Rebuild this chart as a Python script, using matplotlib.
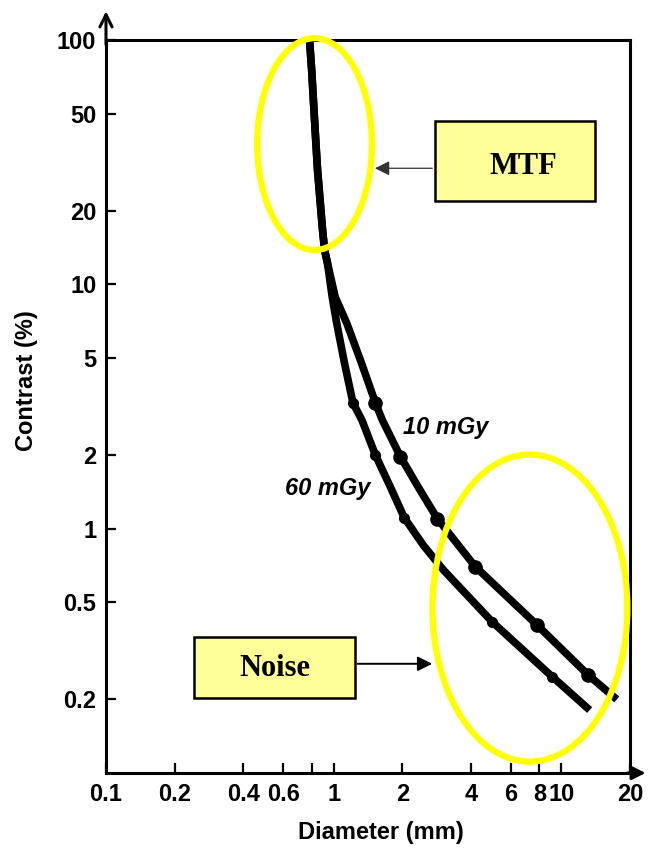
import matplotlib
matplotlib.use("Agg")
import matplotlib.pyplot as plt
from matplotlib.patches import Ellipse, Rectangle

# diameter (mm) vs contrast (%)
d_10 = [0.783, 0.800, 0.832, 0.849, 0.893, 0.912, 0.939, 1.015, 1.14, 1.324, 1.525, 1.636,
        1.963, 2.35, 2.85, 4.18, 7.82, 13.1, 17.5]
c_10 = [100, 75.4, 40.1, 29.4, 16.7, 13.8, 12.2, 8.87, 6.95, 4.76, 3.27, 2.78,
        1.97, 1.48, 1.10, 0.70, 0.403, 0.252, 0.20]
dots_10 = [10, 12, 14, 15, 16, 17]

d_60 = [0.783, 0.800, 0.832, 0.849, 0.893, 0.912, 0.939, 0.985, 1.03, 1.115, 1.215, 1.33,
        1.525, 1.774, 2.04, 2.47, 3.03, 4.96, 9.1, 13.3]
c_60 = [100, 75.4, 40.1, 29.4, 16.7, 13.8, 12.2, 8.87, 6.95, 4.76, 3.27, 2.78,
        2.0, 1.48, 1.11, 0.857, 0.678, 0.416, 0.248, 0.181]
dots_60 = [10, 12, 14, 17, 18]

x_ticks = [0.1, 0.2, 0.4, 0.6, 0.8, 1, 2, 4, 6, 8, 10, 20]
x_labels = ['0.1', '0.2', '0.4', '0.6', '', '1', '2', '4', '6', '8', '10', '20']
y_ticks = [0.2, 0.5, 1, 2, 5, 10, 20, 50, 100]
y_labels = ['0.2', '0.5', '1', '2', '5', '10', '20', '50', '100']

plt.rcParams['font.family'] = ['Liberation Sans', 'DejaVu Sans']

fig = plt.figure(figsize=(6.49, 8.5), dpi=100)
ax = fig.add_axes([106 / 649, 1 - 773 / 850, 524 / 649, 733 / 850])

ax.plot(d_10, c_10, color='black', lw=5.5, solid_capstyle='butt', solid_joinstyle='round',
        marker='o', markevery=dots_10, ms=9.5, zorder=3)
ax.plot(d_60, c_60, color='black', lw=5.5, solid_capstyle='butt', solid_joinstyle='round',
        marker='o', markevery=dots_60, ms=7, zorder=3)

ax.set_xscale('log')
ax.set_yscale('log')
ax.set_xlim(0.1, 20)
ax.set_ylim(0.1, 100)
ax.set_xticks(x_ticks)
ax.set_xticklabels(x_labels)
ax.set_yticks(y_ticks)
ax.set_yticklabels(y_labels)
ax.minorticks_off()
ax.tick_params(direction='in', length=7, width=1.6, labelsize=17, pad=7)
for lab in ax.get_xticklabels() + ax.get_yticklabels():
    lab.set_fontweight('bold')
for sp in ax.spines.values():
    sp.set_linewidth(2.2)

ax.set_xlabel('Diameter (mm)', fontsize=17, fontweight='bold')
ax.set_ylabel('Contrast (%)', fontsize=17, fontweight='bold')
ax.xaxis.set_label_coords(0.525, -0.066)
ax.yaxis.set_label_coords(-0.13, 0.535)

# axis arrows
ax.annotate('', xy=(0, 1.043), xytext=(0, 0.99), xycoords='axes fraction',
            arrowprops=dict(arrowstyle='->', lw=2.2, color='black', mutation_scale=22))
ax.annotate('', xy=(1.035, 0), xytext=(0.99, 0), xycoords='axes fraction',
            arrowprops=dict(arrowstyle='-|>', lw=2.2, color='black', mutation_scale=20))

# curve labels
ax.text(3.1, 2.6, '10 mGy', fontsize=17, fontweight='bold', style='italic',
        ha='center', va='center')
ax.text(0.94, 1.46, '60 mGy', fontsize=17, fontweight='bold', style='italic',
        ha='center', va='center')

# yellow highlight ellipses
for cx, cy, w, h in [(0.398, 0.858, 0.219, 0.289), (0.809, 0.225, 0.372, 0.419)]:
    ax.add_patch(Ellipse((cx, cy), w, h, transform=ax.transAxes, fill=False,
                         edgecolor='#FFFF00', lw=4.5, zorder=5, clip_on=False))

# callout boxes
ax.add_patch(Rectangle((0.628, 0.780), 0.305, 0.109, transform=ax.transAxes,
                       facecolor='#FFFF99', edgecolor='black', lw=1.8, zorder=6, clip_on=False))
ax.text(0.796, 0.828, 'MTF', transform=ax.transAxes, fontsize=22, fontweight='bold',
        family='Liberation Serif', ha='center', va='center', zorder=7)
ax.annotate('', xy=(0.508, 0.825), xytext=(0.628, 0.825), xycoords='axes fraction',
            arrowprops=dict(arrowstyle='-|>', lw=0.9, color='#333333', mutation_scale=22), zorder=6)

ax.add_patch(Rectangle((0.168, 0.102), 0.307, 0.084, transform=ax.transAxes,
                       facecolor='#FFFF99', edgecolor='black', lw=1.8, zorder=6, clip_on=False))
ax.text(0.3225, 0.143, 'Noise', transform=ax.transAxes, fontsize=22, fontweight='bold',
        family='Liberation Serif', ha='center', va='center', zorder=7)
ax.annotate('', xy=(0.628, 0.149), xytext=(0.475, 0.149), xycoords='axes fraction',
            arrowprops=dict(arrowstyle='-|>', lw=1.4, color='black', mutation_scale=22), zorder=6)

fig.savefig('out.png', dpi=100)
